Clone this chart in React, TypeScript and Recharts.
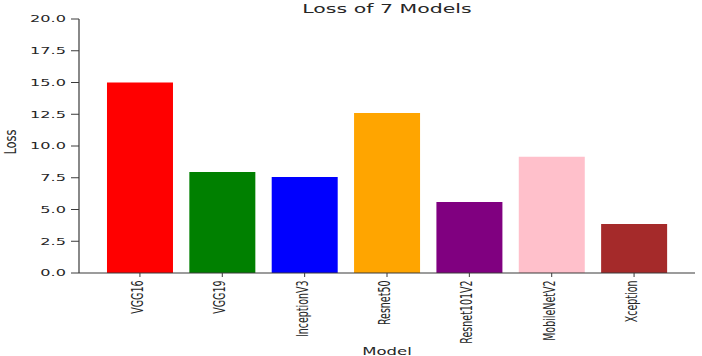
import React from 'react';
import { BarChart, Bar, Cell, XAxis, YAxis, Customized } from 'recharts';

const models = ['VGG16', 'VGG19', 'InceptionV3', 'Resnet50', 'Resnet101V2', 'MobileNetV2', 'Xception'];
const losses = [15.0, 7.95, 7.55, 12.6, 5.6, 9.15, 3.85];
const barColors = ['#ff0000', '#008000', '#0000ff', '#ffa500', '#800080', '#ffc0cb', '#a52a2a'];
const yTicks = [0, 2.5, 5, 7.5, 10, 12.5, 15, 17.5, 20];

const data = models.map((m, i) => ({ model: m, loss: losses[i] }));

const FONT = 'DejaVu Sans';
const TEXT = '#262626';
const SPINE = '#3a3a3a';

// the picture is stretched sideways, so text gets a horizontal scale
const XTick = (props: any) => {
  const { x, y, payload } = props;
  return (
    <text
      transform={`translate(${x},${y + 1.5}) scale(1.7,1) rotate(-90)`}
      textAnchor="end"
      dy={1.8}
      fontFamily={FONT}
      fontSize={9.5}
      fill={TEXT}
    >
      {payload.value}
    </text>
  );
};

const YTick = (props: any) => {
  const { x, y, payload } = props;
  return (
    <text
      transform={`translate(${x},${y}) scale(1.7,1)`}
      textAnchor="end"
      dy="0.36em"
      fontFamily={FONT}
      fontSize={9.5}
      fill={TEXT}
    >
      {payload.value.toFixed(1)}
    </text>
  );
};

const Labels = () => (
  <g fontFamily={FONT} fill={TEXT}>
    <text transform="translate(387,13.3) scale(1.64,1)" textAnchor="middle" fontSize={12.5}>
      Loss of 7 Models
    </text>
    <text transform="translate(387,355) scale(1.5,1)" textAnchor="middle" fontSize={11}>
      Model
    </text>
    <text transform="translate(16,142) scale(1.45,1) rotate(-90)" textAnchor="middle" fontSize={11.5}>
      Loss
    </text>
  </g>
);

export default function App() {
  return (
    <div style={{ position: 'absolute', left: 0, top: 0, background: '#fff' }}>
      <BarChart
        width={702}
        height={356}
        data={data}
        margin={{ top: 19, right: 7, left: 0, bottom: 0 }}
        barCategoryGap="10%"
      >
        <XAxis
          dataKey="model"
          height={83}
          interval={0}
          padding={{ left: 19.75, right: 19.75 }}
          tickSize={4}
          tickMargin={2}
          tick={<XTick />}
          axisLine={{ stroke: SPINE, strokeWidth: 1.2 }}
          tickLine={{ stroke: SPINE }}
        />
        <XAxis
          xAxisId="top"
          dataKey="model"
          orientation="top"
          height={0}
          tick={false}
          tickLine={false}
          axisLine={{ stroke: SPINE, strokeWidth: 1.2 }}
        />
        <YAxis
          domain={[0, 20]}
          ticks={yTicks}
          width={79}
          tickSize={8}
          tickMargin={5}
          tick={<YTick />}
          axisLine={{ stroke: SPINE, strokeWidth: 1.2 }}
          tickLine={{ stroke: SPINE }}
        />
        <YAxis
          yAxisId="right"
          orientation="right"
          width={0}
          domain={[0, 20]}
          tick={false}
          tickLine={false}
          axisLine={{ stroke: SPINE, strokeWidth: 1.2 }}
        />
        <Bar dataKey="loss" isAnimationActive={false}>
          {data.map((d, i) => (
            <Cell key={d.model} fill={barColors[i]} />
          ))}
        </Bar>
        <Customized component={Labels} />
      </BarChart>
    </div>
  );
}
